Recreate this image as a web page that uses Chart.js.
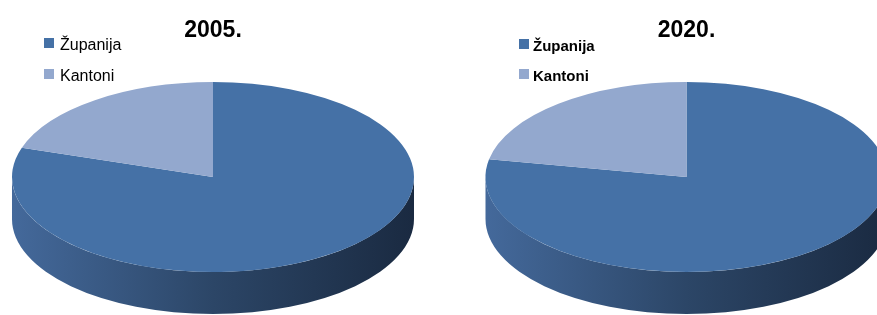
<!DOCTYPE html>
<html>
<head>
<meta charset="utf-8">
<script src="https://cdn.jsdelivr.net/npm/chart.js@4.4.0/dist/chart.umd.min.js"></script>
<style>
  html, body { margin: 0; padding: 0; background: #fff; width: 877px; height: 315px; overflow: hidden; }
  canvas { position: absolute; top: 0; }
  #pie2005 { left: 0; }
  #pie2020 { left: 440px; }
</style>
</head>
<body>
<canvas id="pie2005" width="426" height="315"></canvas>
<canvas id="pie2020" width="493" height="315"></canvas>
<script>
// data (shares in %)
const categories = ['Županija', 'Kantoni'];
const years = ['2005.', '2020.'];
const values2005 = [80, 20];
const values2020 = [78, 22];

const sliceColors = ['#4571a6', '#93a8ce'];
const sideColors = [
  ['#44699b', '#2c4667', '#1a2a41'],
  ['#8295b8', '#5f7192', '#3e4b62']
];

// squash the flat pie into an ellipse and draw the rim below it
const pie3d = {
  id: 'pie3d',
  beforeDatasetsDraw(chart, args, opts) {
    const ctx = chart.ctx;
    const arcs = chart.getDatasetMeta(0).data;
    const r = arcs[0].outerRadius, ox = arcs[0].x, oy = arcs[0].y;
    const sx = opts.rx / r, sy = opts.ry / r;
    ctx.save();
    ctx.translate(opts.cx, opts.cy);
    ctx.scale(sx, sy);
    ctx.translate(-ox, -oy);
    const d = opts.depth / sy;
    arcs.forEach((arc, i) => {
      for (let k = -1; k <= 1; k++) {
        const lo = Math.max(arc.startAngle, k * 2 * Math.PI);
        const hi = Math.min(arc.endAngle, k * 2 * Math.PI + Math.PI);
        if (hi <= lo) continue;
        const g = ctx.createLinearGradient(ox - r, 0, ox + r, 0);
        g.addColorStop(0, sideColors[i][0]);
        g.addColorStop(0.5, sideColors[i][1]);
        g.addColorStop(1, sideColors[i][2]);
        ctx.fillStyle = g;
        ctx.beginPath();
        ctx.arc(ox, oy, r, lo, hi);
        ctx.arc(ox, oy + d, r, hi, lo, true);
        ctx.closePath();
        ctx.fill();
      }
    });
  },
  afterDatasetsDraw(chart) {
    chart.ctx.restore();
  }
};

// legend drawn at a fixed spot in the top left corner
const cornerLegend = {
  id: 'cornerLegend',
  afterDraw(chart, args, opts) {
    const ctx = chart.ctx;
    const ds = chart.data.datasets[0];
    ctx.save();
    ctx.font = opts.font;
    ctx.textBaseline = 'alphabetic';
    chart.data.labels.forEach((lab, i) => {
      const y = opts.y + i * opts.step;
      ctx.fillStyle = ds.backgroundColor[i];
      ctx.fillRect(opts.x, y, 10, 10);
      ctx.fillStyle = '#000';
      ctx.fillText(lab, opts.x + opts.textGap, y + 12);
    });
    ctx.restore();
  }
};

function makePie(id, year, values, geo, leg) {
  return new Chart(document.getElementById(id), {
    type: 'pie',
    data: {
      labels: categories,
      datasets: [{
        data: values,
        backgroundColor: sliceColors,
        borderWidth: 0,
        hoverOffset: 0
      }]
    },
    options: {
      responsive: false,
      animation: false,
      events: [],
      layout: { padding: 0 },
      plugins: {
        legend: { display: false },
        tooltip: { enabled: false },
        title: {
          display: true,
          text: year,
          color: '#000',
          font: { family: "'Liberation Sans', Arial, sans-serif", size: 23, weight: 'bold' },
          padding: { top: 17, bottom: 0 }
        },
        pie3d: geo,
        cornerLegend: leg
      }
    },
    plugins: [pie3d, cornerLegend]
  });
}

makePie('pie2005', years[0], values2005,
  { cx: 213, cy: 177, rx: 201, ry: 95, depth: 42 },
  { x: 44, y: 38, step: 31, textGap: 16, font: "16px 'Liberation Sans', Arial, sans-serif" });

makePie('pie2020', years[1], values2020,
  { cx: 246.5, cy: 177, rx: 201, ry: 95, depth: 42 },
  { x: 79, y: 39, step: 30, textGap: 14, font: "bold 15px 'Liberation Sans Narrow', 'Liberation Sans', Arial, sans-serif" });
</script>
</body>
</html>
